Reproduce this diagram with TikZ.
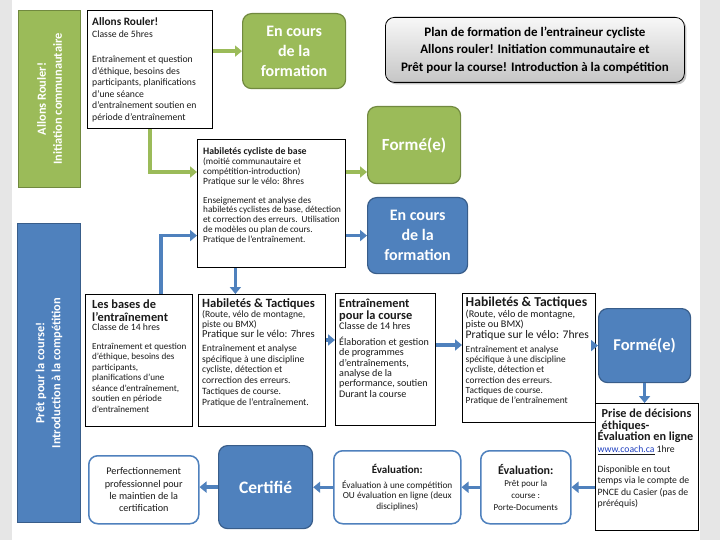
\documentclass[tikz,border=0pt]{standalone}
\usepackage{fontspec}
\setmainfont{Carlito}
\usetikzlibrary{arrows.meta,shadows}
\definecolor{ogreen}{HTML}{9BBB59}
\definecolor{ogreenD}{HTML}{71893F}
\definecolor{oblue}{HTML}{4F81BD}
\definecolor{oblueD}{HTML}{385D8A}
\definecolor{sidegray}{HTML}{E6E6E6}
\definecolor{linkblue}{HTML}{1F3FBF}
\definecolor{bodytext}{HTML}{1A1A1A}
\newcommand{\fs}[2]{\fontsize{#1}{#2}\selectfont\lineskiplimit=-50pt\lineskip=0pt\relax}
\begin{document}
\begin{tikzpicture}[x=1pt,y=-1pt,
  frame/.style={draw=black, line width=0.8pt, fill=white, rectangle, anchor=north west, inner sep=0pt},
  btext/.style={anchor=north west, align=left, inner sep=0pt, text=bodytext},
  gbox/.style={draw=ogreenD, fill=ogreen, line width=1.2pt, rounded corners=9pt, text=white,
    font=\fs{16}{20}\bfseries, align=center, anchor=north west, inner sep=0pt},
  bbox/.style={gbox, draw=oblueD, fill=oblue},
  wbox/.style={draw=oblue, fill=white, line width=1.5pt, rounded corners=9pt, align=center,
    anchor=north west, inner sep=0pt, text=bodytext},
  gside/.style={draw=ogreenD, fill=ogreen, line width=1pt, anchor=north west, inner sep=0pt},
  bside/.style={gside, draw=oblueD, fill=oblue},
  sidetext/.style={rotate=90, align=center, text=white, font=\fs{12.4}{16}\bfseries, inner sep=0pt},
  garrow/.style={draw=ogreen, line width=3.5pt, -{Triangle[width=11pt,length=7pt]}},
  barrow/.style={garrow, draw=oblue}
]
\useasboundingbox (0,0) rectangle (720,540);
\fill[white] (0,0) rectangle (720,540);
\fill[sidegray] (0,0) rectangle (12,540);
\fill[sidegray] (700,0) rectangle (720,540);

% side bars
\node[gside, minimum width=62pt, minimum height=177pt] (gsideB) at (18,10) {};
\node[sidetext] (gsideT) at (gsideB.center) {Allons Rouler!\\Initiation communautaire};
\node[bside, minimum width=63pt, minimum height=299pt] (bsideB) at (17,223) {};
\node[sidetext] (bsideT) at (bsideB.center) {Prêt pour la course!\\Introduction à la compétition};

% title
\node[draw=black, line width=0.8pt, rounded corners=9pt, top color=gray!6, bottom color=gray!45,
  drop shadow={shadow xshift=2pt, shadow yshift=-2pt, opacity=0.45},
  minimum width=299pt, minimum height=65pt, anchor=north west, inner sep=0pt, align=center,
  font=\fs{13}{17.5}\bfseries] (title) at (385,17)
  {Plan de formation de l’entraineur cycliste\\Allons rouler! Initiation communautaire et\\Prêt pour la course! Introduction à la compétition};

% Allons Rouler box
\node[frame, minimum width=125pt, minimum height=118pt] (allons) at (87,10) {};
\node[btext, font=\fs{9.7}{11.6}] (allonsT) at ([xshift=5pt,yshift=-7.7pt]allons.north west)
  {{\fs{11.3}{11.6}\bfseries Allons Rouler!}\\
   Classe de 5hres\\[13.4pt]
   Entraînement et question\\
   d’éthique, besoins des\\
   participants, planifications\\
   d’une séance\\
   d’entraînement soutien en\\
   période d’entraînement};

% green status boxes
\node[gbox, minimum width=103pt, minimum height=75pt] (encoursG) at (242,13) {En cours\\de la\\formation};
\node[gbox, minimum width=93pt, minimum height=77pt, font=\fs{17}{20}\bfseries] (formeG) at (367,106) {Formé(e)};

% Habiletés cyclistes de base
\node[frame, minimum width=148pt, minimum height=128pt] (hab) at (197,139) {};
\node[btext, font=\fs{9.2}{9.7}] (habT) at ([xshift=6pt,yshift=-8.4pt]hab.north west)
  {{\fs{9.8}{9.7}\bfseries Habiletés cycliste de base}\\[0.6pt]
   (moitié communautaire et\\
   compétition-introduction)\\
   {\fs{9.5}{9.7}Pratique sur le vélo: 8hres}\\[9.4pt]
   Enseignement et analyse des\\
   habiletés cyclistes de base, détection\\
   et correction des erreurs.\ \ Utilisation\\
   de modèles ou plan de cours.\\
   Pratique de l’entraînement.};

\node[bbox, minimum width=100pt, minimum height=76pt] (encoursB) at (367,197) {En cours\\de la\\formation};

% second row
\node[frame, minimum width=107pt, minimum height=132pt] (bases) at (85,294) {};
\node[btext, font=\fs{9.1}{10.5}] (basesT) at ([xshift=7pt,yshift=-5.2pt]bases.north west)
  {{\fs{12.4}{10.5}\bfseries Les bases de}\\[2.5pt]
   {\fs{12.4}{10.5}\bfseries l’entraînement}\\[-1.2pt]
   {\fs{9.7}{10.5}Classe de 14 hres}\\[8.4pt]
   Entraînement et question\\
   d’éthique, besoins des\\
   participants,\\
   planifications d’une\\
   séance d’entraînement,\\
   soutien en période\\
   d’entraînement};

\node[frame, minimum width=127pt, minimum height=132pt] (ht1) at (198,294) {};
\node[btext, font=\fs{9.6}{10.8}] (ht1T) at ([xshift=4pt,yshift=-4.5pt]ht1.north west)
  {{\fs{12.6}{10.8}\bfseries Habiletés \& Tactiques}\\[-0.5pt]
   {\fs{9.6}{10.8}(Route, vélo de montagne,}\\[-1.2pt]
   {\fs{9.6}{10.8}piste ou BMX)}\\[-1pt]
   {\fs{10.6}{10.8}Pratique sur le vélo: 7hres}\\[3.2pt]
   Entraînement et analyse\\
   spécifique à une discipline\\
   cycliste, détection et\\
   correction des erreurs.\\
   Tactiques de course.\\
   Pratique de l’entraînement.};

\node[frame, minimum width=100pt, minimum height=132pt] (entr) at (335,293) {};
\node[btext, font=\fs{10.1}{10.4}] (entrT) at ([xshift=4pt,yshift=-6.2pt]entr.north west)
  {{\fs{12.4}{10.4}\bfseries Entraînement}\\[1.6pt]
   {\fs{12.4}{10.4}\bfseries pour la course}\\[-1pt]
   {\fs{10.2}{10.4}Classe de 14 hres}\\[5.7pt]
   Élaboration et gestion\\
   de programmes\\
   d’entraînements,\\
   analyse de la\\
   performance, soutien\\
   Durant la course};

\node[frame, minimum width=133pt, minimum height=129pt] (ht2) at (462,293) {};
\node[btext, font=\fs{9.4}{10.2}] (ht2T) at ([xshift=3.5pt,yshift=-3.8pt]ht2.north west)
  {{\fs{13.6}{10.2}\bfseries Habiletés \& Tactiques}\\[0.9pt]
   {\fs{10.2}{10.2}(Route, vélo de montagne,}\\[-0.2pt]
   {\fs{10.2}{10.2}piste ou BMX)}\\[0.2pt]
   {\fs{11.6}{10.2}Pratique sur le vélo: 7hres}\\[4.2pt]
   Entraînement et analyse\\
   spécifique à une discipline\\
   cycliste, détection et\\
   correction des erreurs.\\
   Tactiques de course.\\
   Pratique de l’entraînement};

\node[bbox, minimum width=92pt, minimum height=74pt, font=\fs{16.5}{20}\bfseries] (formeB) at (598,308) {Formé(e)};

% Prise de décisions
\node[frame, minimum width=103pt, minimum height=127pt] (prise) at (595,403) {};
\node[btext, font=\fs{9.7}{11.5}] (priseT) at ([xshift=2.5pt,yshift=-6pt]prise.north west)
  {{\fs{12.2}{11.5}\bfseries\hspace*{4pt}Prise de décisions}\\
   {\fs{12.2}{11.5}\bfseries\hspace*{4pt}éthiques-}\\
   {\fs{12.2}{11.5}\bfseries Évaluation en ligne}\\
   \underline{\textcolor{linkblue}{www.coach.ca}} 1hre\\[8.5pt]
   Disponible en tout\\
   temps via le compte de\\
   PNCE du Casier (pas de\\
   préréquis)};

% bottom row
\node[wbox, minimum width=90pt, minimum height=73pt, font=\fs{9}{11.7}] (evalP) at (480,450)
  {{\fs{12}{11.7}\bfseries Évaluation:}\\[0.5pt]Prêt pour la\\course :\\Porte-Documents};
\node[wbox, minimum width=127pt, minimum height=73pt, font=\fs{9.3}{10.5}] (eval1) at (333,450)
  {{\fs{11}{10.5}\bfseries Évaluation:}\\[4.5pt]Évaluation à une compétition\\OU évaluation en ligne (deux\\disciplines)};
\node[bbox, minimum width=94pt, minimum height=83pt, font=\fs{17.5}{20}\bfseries] (cert) at (218,445) {Certifié};
\node[wbox, minimum width=110pt, minimum height=68pt, font=\fs{10.2}{12.3}] (perf) at (88,455)
  {Perfectionnement\\professionnel pour\\le maintien de la\\certification};

% connectors
\draw[garrow] (allons.east |- encoursG.west) -- (encoursG.west);
\draw[garrow] (allons.south) |- ([yshift=-33pt]hab.north west);
\draw[garrow] ([yshift=-33pt]hab.north east) -- ([yshift=-33pt]hab.north east -| formeG.west);
\draw[barrow] ([xshift=22pt]bases.north) |- (hab.west |- encoursB.west);
\draw[barrow] (hab.east |- encoursB.west) -- (encoursB.west);
\draw[barrow] ([xshift=-36pt]hab.south) -- ([xshift=-36pt]hab.south |- ht1.north);
\draw[barrow] ([yshift=-46pt]ht1.north east) -- ([yshift=-46pt]ht1.north east -| entr.west);
\draw[barrow] ([yshift=-52pt]entr.north east) -- ([yshift=-52pt]entr.north east -| ht2.west);
\draw[barrow] (ht2.east |- formeB.west) -- (formeB.west);
\draw[barrow] (formeB.south) -- (formeB.south |- prise.north);
\draw[barrow] (prise.west |- evalP.east) -- (evalP.east);
\draw[barrow] (evalP.west) -- (eval1.east);
\draw[barrow] (eval1.west) -- (eval1.west -| cert.east);
\draw[barrow] (cert.west) -- (cert.west -| perf.east);
\end{tikzpicture}
\end{document}
